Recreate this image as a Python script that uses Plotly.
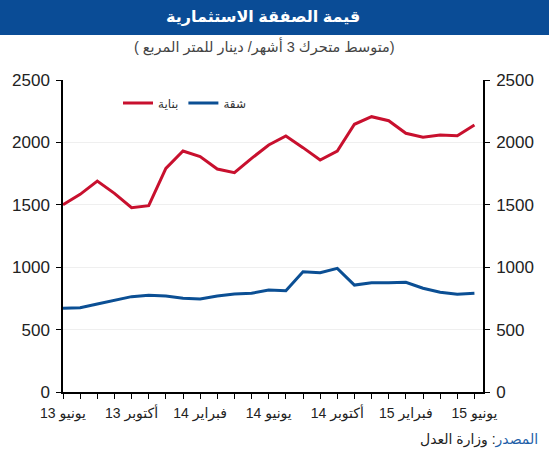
import plotly.graph_objects as go

# Data (monthly, June 2013 -> June 2015)
x_index = list(range(25))
building = [1500, 1584, 1690, 1592, 1477, 1493, 1792, 1931, 1886, 1787, 1757, 1872, 1979,
            2051, 1958, 1859, 1931, 2145, 2206, 2174, 2073, 2041, 2059, 2054, 2139]
apartment = [671, 676, 705, 737, 764, 775, 769, 751, 745, 769, 785, 791, 817,
             812, 964, 956, 991, 857, 876, 876, 879, 831, 799, 783, 791]
label_positions = [0, 4, 8, 12, 16, 20, 24]
label_texts = ["يونيو 13", "أكتوبر 13", "فبراير 14", "يونيو 14", "أكتوبر 14", "فبراير 15", "يونيو 15"]
series_names = ["بناية", "شقة"]
y_ticks = [0, 500, 1000, 1500, 2000, 2500]

RED = "#C8102E"
BLUE = "#0B4F94"
BAR = "#0A4C96"
FONT = "Arial, Liberation Sans, DejaVu Sans, sans-serif"

W, H = 549, 450
L, R, T, B = 63, 66, 80, 58
PW, PH = W - L - R, H - T - B


def px(xp):
    return (xp - L) / PW


def py(yp):
    return (H - B - yp) / PH


ticktext = [label_texts[label_positions.index(i)] if i in label_positions else "" for i in x_index]

fig = go.Figure()
fig.add_trace(go.Scatter(x=x_index, y=building, mode="lines", name=series_names[0],
                         line=dict(color=RED, width=3)))
fig.add_trace(go.Scatter(x=x_index, y=apartment, mode="lines", name=series_names[1],
                         line=dict(color=BLUE, width=3)))
# invisible trace on right axis
fig.add_trace(go.Scatter(x=x_index, y=building, yaxis="y2", mode="lines",
                         line=dict(width=0), showlegend=False, hoverinfo="skip", opacity=0))

fig.update_layout(
    width=W, height=H,
    margin=dict(l=L, r=R, t=T, b=B),
    paper_bgcolor="white", plot_bgcolor="white",
    font=dict(family=FONT, color="#222222"),
    showlegend=True,
    legend=dict(orientation="h", x=px(118), y=py(103), xanchor="left", yanchor="middle",
                font=dict(size=12, color="#333333"), bgcolor="rgba(0,0,0,0)",
                itemwidth=30, tracegroupgap=0),
    xaxis=dict(range=[0, 24.5], tickmode="array", tickvals=x_index, ticktext=ticktext,
               ticks="outside", ticklen=5, tickcolor="black", showline=True,
               linecolor="black", linewidth=1.5, showgrid=False, zeroline=False,
               tickangle=0, tickfont=dict(size=14, color="#222222"), ticklabelstandoff=2),
    yaxis=dict(range=[0, 2500], tickvals=y_ticks, ticks="outside", ticklen=5,
               tickcolor="black", showline=True, linecolor="black", linewidth=1.5,
               showgrid=True, gridcolor="#efefef", gridwidth=1, zeroline=False,
               tickfont=dict(size=17, color="#222222"), ticklabelstandoff=3),
    yaxis2=dict(range=[0, 2500], tickvals=y_ticks, overlaying="y", side="right",
                anchor="x", ticks="outside", ticklen=5, tickcolor="black",
                showline=True, linecolor="black", linewidth=1.5, showgrid=False,
                zeroline=False, tickfont=dict(size=17, color="#222222"), ticklabelstandoff=3),
)

# Title bar
fig.add_shape(type="rect", xref="paper", yref="paper", x0=px(0), x1=px(W), y0=py(35), y1=py(0),
              fillcolor=BAR, line=dict(width=0), layer="below")
fig.add_annotation(xref="paper", yref="paper", x=px(263), y=py(17), text="<b>قيمة الصفقة الاستثمارية</b>",
                   showarrow=False, font=dict(size=16, color="white", family=FONT),
                   xanchor="center", yanchor="middle")
fig.add_annotation(xref="paper", yref="paper", x=px(264), y=py(47),
                   text="( متوسط متحرك 3 أشهر/ دينار للمتر المربع)",
                   showarrow=False, font=dict(size=14.5, color="#444444", family=FONT),
                   xanchor="center", yanchor="middle")
# Source
fig.add_annotation(xref="paper", yref="paper", x=px(540), y=py(440),
                   text="<span style='color:#1F5FA8'>المصدر</span>: وزارة العدل",
                   showarrow=False, font=dict(size=14, color="#222222", family=FONT),
                   xanchor="right", yanchor="middle")

fig.write_html("out.html")
